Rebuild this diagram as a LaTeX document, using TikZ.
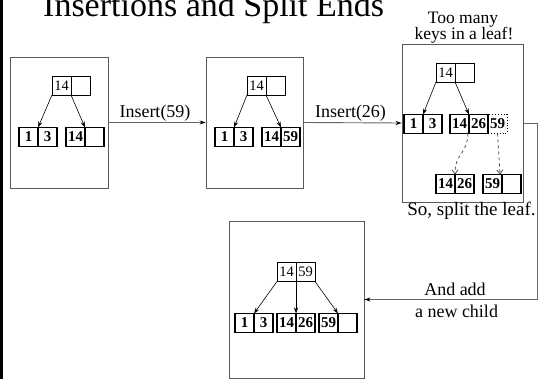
\documentclass[tikz,border=0pt]{standalone}
\usepackage{fontspec}
\setmainfont{Liberation Serif}
\usetikzlibrary{arrows.meta,calc}
\begin{document}
\begin{tikzpicture}[x=1pt,y=-1pt,
  frame/.style={draw=black!65, line width=0.9pt, inner sep=0pt},
  cell/.style={draw=black, line width=1.2pt, minimum width=19pt, minimum height=19pt,
    inner sep=0pt, outer sep=0pt, font=\fontsize{15}{15}\selectfont\bfseries},
  rootcell/.style={cell, line width=0.8pt, font=\fontsize{14.5}{14.5}\selectfont},
  spill/.style={cell, line width=0.9pt, dotted},
  link/.style={draw=black, line width=0.6pt, -{Stealth[length=6pt,width=4pt]}},
  move/.style={draw=black!75, line width=0.7pt, dashed, -{Straight Barb[length=4pt,width=6pt]}},
  flow/.style={draw=black!60, line width=0.9pt, -{Stealth[length=6pt,width=4pt,black]}},
  lbl/.style={font=\fontsize{18}{18}\selectfont, inner sep=0pt},
]
\useasboundingbox (0,0) rectangle (554,379);

% left rule and title
\draw[line width=3pt] (1.5,0) -- (1.5,379);
\node[font=\fontsize{34}{34}\selectfont, inner sep=0pt, anchor=base west] (title) at (43,16.5) {Insertions and Split Ends};

% the four stages
\node[frame, minimum width=98pt, minimum height=131pt] (b1) at (59,122.5) {};
\node[frame, minimum width=97pt, minimum height=131pt] (b2) at (254.5,122.5) {};
\node[frame, minimum width=121pt, minimum height=158pt] (b3) at (462.5,123) {};
\node[frame, minimum width=135pt, minimum height=157pt] (b4) at (296.5,299.5) {};

% stage 1
\node[rootcell] (a1) at (61.5,85.5) {14};
\node[rootcell] (a2) at (80.5,85.5) {};
\node[cell] (a3) at (28.5,137) {1};
\node[cell] (a4) at (47.5,137) {3};
\node[cell] (a5) at (75.5,137) {14};
\node[cell] (a6) at (94.5,137) {};
\draw[link] (a1.south west) -- (a3.north east);
\draw[link] (a2.south west) -- (a5.north east);

% stage 2
\node[rootcell] (e1) at (256.5,85.5) {14};
\node[rootcell] (e2) at (275.5,85.5) {};
\node[cell] (e3) at (224.5,137) {1};
\node[cell] (e4) at (243.5,137) {3};
\node[cell] (e5) at (271.5,137) {14};
\node[cell] (e6) at (290.5,137) {59};
\draw[link] (e1.south west) -- (e3.north east);
\draw[link] (e2.south west) -- (e5.north east);

% stage 3: overfull leaf and its split
\node[font=\fontsize{17.5}{17.5}\selectfont, inner sep=0pt, anchor=base] (t1) at (463,23.5) {Too many};
\node[font=\fontsize{17.5}{17.5}\selectfont, inner sep=0pt, anchor=base] (t2) at (464,39.5) {keys in a leaf!};
\node[rootcell] (c1) at (445.5,72.5) {14};
\node[rootcell] (c2) at (464.5,72.5) {};
\node[cell] (c3) at (413.5,124) {1};
\node[cell] (c4) at (432.5,124) {3};
\node[cell] (c5) at (459.5,124) {14};
\node[cell] (c6) at (478.5,124) {26};
\node[spill] (c7) at (497.5,124) {59};
\node[cell] (c8) at (445.5,184) {14};
\node[cell] (c9) at (464.5,184) {26};
\node[cell] (c10) at (492.5,184) {59};
\node[cell] (c11) at (511.5,184) {};
\draw[link] (c1.south west) -- (c3.north east);
\draw[link] (c2.south west) -- (c5.north east);
\draw[move] ($(c5.south east)+(-1,0)$) .. controls ($(c5.south east)+(-2,22)$) and ($(c8.north east)+(0,-22)$) .. (c8.north east);
\draw[move] (c7.south) -- ($(c10.north)!0.8!(c10.north east)$);
\node[font=\fontsize{19}{19}\selectfont, inner sep=0pt, anchor=base] (t3) at (471.5,216) {So, split the leaf.};

% stage 4
\node[rootcell] (d1) at (286.5,272) {14};
\node[rootcell] (d2) at (305.5,272) {59};
\node[cell] (d3) at (244.5,323) {1};
\node[cell] (d4) at (263.5,323) {3};
\node[cell] (d5) at (286.5,323) {14};
\node[cell] (d6) at (305.5,323) {26};
\node[cell] (d7) at (328.5,323) {59};
\node[cell] (d8) at (347.5,323) {};
\draw[link] (d1.south west) -- (d3.north east);
\draw[link] (d1.south east) -- (d5.north east);
\draw[link] (d2.south east) -- (d7.north east);

% transitions between stages
\draw[flow] (b1.east) -- (b2.west)
  node[lbl, midway, anchor=base, xshift=-2pt, yshift=5pt] {Insert(59)};
\draw[flow] (b2.east) -- (b3.west)
  node[lbl, midway, anchor=base, xshift=-2pt, yshift=5pt] {Insert(26)};
\coordinate (turn) at (537,123);
\draw[flow] (b3.east) -- (turn) |- (b4.east);
\node[lbl, anchor=base] (n1) at (455,295) {And add};
\node[lbl, anchor=base] (n2) at (456.5,317) {a new child};
\end{tikzpicture}
\end{document}
